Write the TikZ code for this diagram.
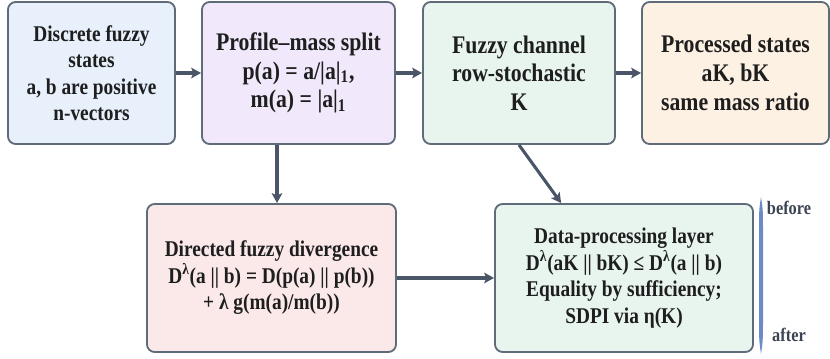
\documentclass[tikz,border=0pt]{standalone}
\usepackage{fontspec}
\setmainfont{Liberation Serif}[FakeStretch=0.86]
\usetikzlibrary{arrows.meta}
\definecolor{edgegray}{HTML}{5F6B78}
\definecolor{arrowslate}{HTML}{4A5568}
\definecolor{inkdark}{HTML}{1E1E1E}
\definecolor{fillblue}{HTML}{E7F0FB}
\definecolor{filllilac}{HTML}{F1E9FB}
\definecolor{fillmint}{HTML}{E8F5EE}
\definecolor{fillpeach}{HTML}{FDF1E4}
\definecolor{fillrose}{HTML}{FBE9EA}
\definecolor{barblue}{HTML}{6A8BC6}
\definecolor{notegray}{HTML}{3C4352}
\begin{document}
\begin{tikzpicture}[x=0.025cm, y=-0.025cm,
    box/.style={draw=edgegray, line width=1.3pt, rounded corners=5.5pt, align=center, text=inkdark, inner sep=0pt},
    bigtext/.style={font=\fontsize{18}{20.4}\selectfont\bfseries},
    smalltext/.style={font=\fontsize{16}{18.8}\selectfont\bfseries},
    flow/.style={draw=arrowslate, line width=2.2pt, -{Stealth[length=7pt,width=7.5pt,inset=1.5pt]}}]
    % Picture frame
    \useasboundingbox (0,0) rectangle (830,359);

    % Top row
    \node[box, smalltext, fill=fillblue, minimum width=4.175cm, minimum height=3.55cm] (states) at (91.5,73)
        {Discrete fuzzy\\states\\a, b are positive\\n-vectors};
    \node[box, bigtext, fill=filllilac, minimum width=4.825cm, minimum height=3.55cm] (split) at (298.5,73)
        {Profile–mass split\\p(a) = a/|a|\textsubscript{1},\\m(a) = |a|\textsubscript{1}};
    \node[box, bigtext, fill=fillmint, minimum width=4.8cm, minimum height=3.55cm] (channel) at (519,73)
        {Fuzzy channel\\row-stochastic\\K};
    \node[box, bigtext, fill=fillpeach, minimum width=4.675cm, minimum height=3.55cm] (processed) at (735.5,73)
        {Processed states\\aK, bK\\same mass ratio};

    % Bottom row
    \node[box, smalltext, fill=fillrose, minimum width=6.225cm, minimum height=3.7cm] (divergence) at (271.5,278)
        {Directed fuzzy divergence\\D\textsuperscript{λ}(a || b) = D(p(a) || p(b))\\+ λ g(m(a)/m(b))};
    \node[box, smalltext, fill=fillmint, minimum width=6.45cm, minimum height=3.7cm] (dpi) at (624,278)
        {Data-processing layer\\D\textsuperscript{λ}(aK || bK) ≤ D\textsuperscript{λ}(a || b)\\Equality by sufficiency;\\SDPI via η(K)};

    % Connectors
    \coordinate (splitx) at (277,0);
    \draw[flow] (states) -- (split);
    \draw[flow] (split) -- (channel);
    \draw[flow] (channel) -- (processed);
    \draw[flow] (split.south -| splitx) -- (divergence.north -| splitx);
    \draw[flow] (channel.south) -- (dpi.130);
    \draw[flow] (divergence) -- (dpi);

    % Before / after bar
    \fill[barblue] (761,197) .. controls (763,210) .. (763,235) -- (763,315)
        .. controls (763,340) .. (761,354) .. controls (759,340) .. (759,315)
        -- (759,235) .. controls (759,210) .. (761,197);
    \node[font=\fontsize{13.5}{15}\selectfont\bfseries, text=notegray] (before) at (789,208) {before};
    \node[font=\fontsize{13.5}{15}\selectfont\bfseries, text=notegray] (after) at (789,335) {after};
\end{tikzpicture}
\end{document}
